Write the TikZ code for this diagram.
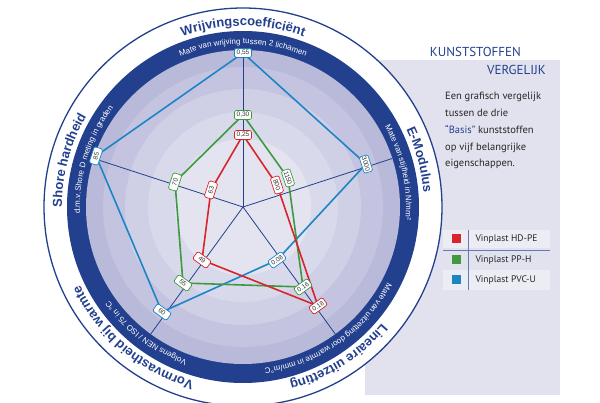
\documentclass[tikz,border=0pt]{standalone}
\usepackage{fontspec}
\setmainfont{PT Sans}
\newfontfamily\lab{Liberation Sans}
\usetikzlibrary{calc,decorations.text}
\definecolor{navy}{HTML}{23408E}
\definecolor{cred}{HTML}{D7262B}
\definecolor{cgreen}{HTML}{3F9A3F}
\definecolor{cblue}{HTML}{1D85C4}
\definecolor{panel}{HTML}{E2E2EE}
\definecolor{rowbg}{HTML}{ECECF4}
\definecolor{ringa}{HTML}{B9B9D9}
\definecolor{ringb}{HTML}{C4C4E0}
\definecolor{ringc}{HTML}{CFCFE6}
\definecolor{ringd}{HTML}{D9D9EC}
\definecolor{ringe}{HTML}{E4E4F1}
\tikzset{
  val/.style={draw=#1, fill=white, rounded corners=1.5pt, line width=0.7pt, inner sep=1.2pt, minimum width=17pt, minimum height=9pt, font=\lab\fontsize{6.5}{7}\selectfont, text=black!80},
  poly/.style={draw=#1, line width=1.6pt, line join=round},
  axis/.style={draw=navy, line width=0.8pt},
  ttl/.style={postaction={decorate, decoration={text along path, text align=center, text={|\lab\bfseries\fontsize{13}{13}\selectfont\color{navy}|#1}}}},
  sub/.style={postaction={decorate, decoration={text along path, text align=center, text={|\lab\fontsize{8}{8}\selectfont\color{white}|#1}}}},
}
\begin{document}
\begin{tikzpicture}[x=1pt,y=1pt]
\useasboundingbox (0,0) rectangle (600,402);
\fill[white] (0,0) rectangle (600,402);
\fill[panel] (365,7) rectangle (560,342);
\coordinate (C) at (243,195);
% circle
\fill[white] (C) circle[radius=199];
\draw[navy, line width=1.3pt] (C) circle[radius=199];
\fill[navy] (C) circle[radius=176];
\fill[ringa] (C) circle[radius=157];
\fill[ringb] (C) circle[radius=140];
\fill[ringc] (C) circle[radius=118];
\fill[ringd] (C) circle[radius=95];
\fill[ringe] (C) circle[radius=68];
% axes
\foreach \a in {90,18,-54,-126,162} \draw[axis] (C) -- ($(C)+(\a:157)$);
% curved titles
\path[ttl={Wrijvingscoefficiënt}] ($(C)+(150:181)$) arc[start angle=150, end angle=30, radius=181];
\path[ttl={E-Modulus}] ($(C)+(60:181)$) arc[start angle=60, end angle=-30, radius=181];
\path[ttl={Shore hardheid}] ($(C)+(215:181)$) arc[start angle=215, end angle=115, radius=181];
\path[ttl={Lineaire uitzetting}] ($(C)+(-5:181)$) arc[start angle=-5, end angle=-110, radius=181];
\path[ttl={Vormvastheid bij warmte}] ($(C)+(-65:181)$) arc[start angle=-65, end angle=-195, radius=181];
\path[sub={Mate van wrijving tussen 2 lichamen}] ($(C)+(150:163)$) arc[start angle=150, end angle=30, radius=163];
\path[sub={Mate van stijfheid in N/mm²}] ($(C)+(60:163)$) arc[start angle=60, end angle=-35, radius=163];
\path[sub={d.m.v.Shore D meting in graden}] ($(C)+(225:163)$) arc[start angle=225, end angle=100, radius=163];
\path[sub={Mate van uitzetting door warmte in mm/m°C}] ($(C)+(5:163)$) arc[start angle=5, end angle=-115, radius=163];
\path[sub={Volgens NEN / ISO 75 in °C}] ($(C)+(-70:163)$) arc[start angle=-70, end angle=-185, radius=163];
% value label coordinates
\coordinate (b1) at (243,349); \coordinate (b2) at (366,238); \coordinate (b3) at (277,142); \coordinate (b4) at (162,90); \coordinate (b5) at (96,246);
\coordinate (g1) at (243,287); \coordinate (g2) at (288,224); \coordinate (g3) at (303,115); \coordinate (g4) at (183,119); \coordinate (g5) at (175,220);
\coordinate (r1) at (243,267); \coordinate (r2) at (277,217); \coordinate (r3) at (318,96); \coordinate (r4) at (202,142); \coordinate (r5) at (211,212);
\draw[poly=cblue] (b1) -- (b2) -- (b3) -- (b4) -- (b5) -- cycle;
\draw[poly=cgreen] (g1) -- (g2) -- (g3) -- (g4) -- (g5) -- cycle;
\draw[poly=cred] (r1) -- (r2) -- (r3) -- (r4) -- (r5) -- cycle;
\node[val=cblue] (vb1) at (b1) {0,55};
\node[val=cblue, rotate=-72] (vb2) at (b2) {3000};
\node[val=cblue, rotate=36] (vb3) at (b3) {0.08};
\node[val=cblue, rotate=-36] (vb4) at (b4) {60};
\node[val=cblue, rotate=72] (vb5) at (b5) {85};
\node[val=cgreen] (vg1) at (g1) {0,30};
\node[val=cgreen, rotate=-72] (vg2) at (g2) {1150};
\node[val=cgreen, rotate=36] (vg3) at (g3) {0.16};
\node[val=cgreen, rotate=-36] (vg4) at (g4) {55};
\node[val=cgreen, rotate=72] (vg5) at (g5) {70};
\node[val=cred] (vr1) at (r1) {0,25};
\node[val=cred, rotate=-72] (vr2) at (r2) {800};
\node[val=cred, rotate=36] (vr3) at (r3) {0.18};
\node[val=cred, rotate=-36] (vr4) at (r4) {49};
\node[val=cred, rotate=72] (vr5) at (r5) {63};
% panel text
\node[anchor=east, text=navy, font=\fontsize{13}{13}\selectfont, inner sep=0] (k1) at (521,350) {KUNSTSTOFFEN};
\node[anchor=east, text=navy, font=\fontsize{13}{13}\selectfont, inner sep=0] (k2) at (546,332) {VERGELIJK};
\node[anchor=north west, align=left, font=\fontsize{10.5}{16.8}\selectfont, text=black!85, inner sep=0] (desc) at (445,310)
 {Een grafisch vergelijk\\tussen de drie\\{\color{navy}“Basis”} kunststoffen\\op vijf belangrijke\\eigenschappen.};
% legend
\fill[rowbg] (443,154) rectangle (550,172);
\fill[rowbg] (443,112) rectangle (550,132);
\draw[navy!70, line width=0.8pt] (443,152) -- (550,152);
\draw[navy!70, line width=0.8pt] (468,112) -- (468,172);
\node[fill=cred, minimum size=9pt, inner sep=0] (l1) at (456,163) {};
\node[fill=cgreen, minimum size=9pt, inner sep=0] (l2) at (456,142) {};
\node[fill=cblue, minimum size=9pt, inner sep=0] (l3) at (456,122) {};
\node[anchor=west, font=\fontsize{9.5}{10}\selectfont, text=black!85] (t1) at (472,163) {Vinplast HD-PE};
\node[anchor=west, font=\fontsize{9.5}{10}\selectfont, text=black!85] (t2) at (472,142) {Vinplast PP-H};
\node[anchor=west, font=\fontsize{9.5}{10}\selectfont, text=black!85] (t3) at (472,122) {Vinplast PVC-U};
\end{tikzpicture}
\end{document}
